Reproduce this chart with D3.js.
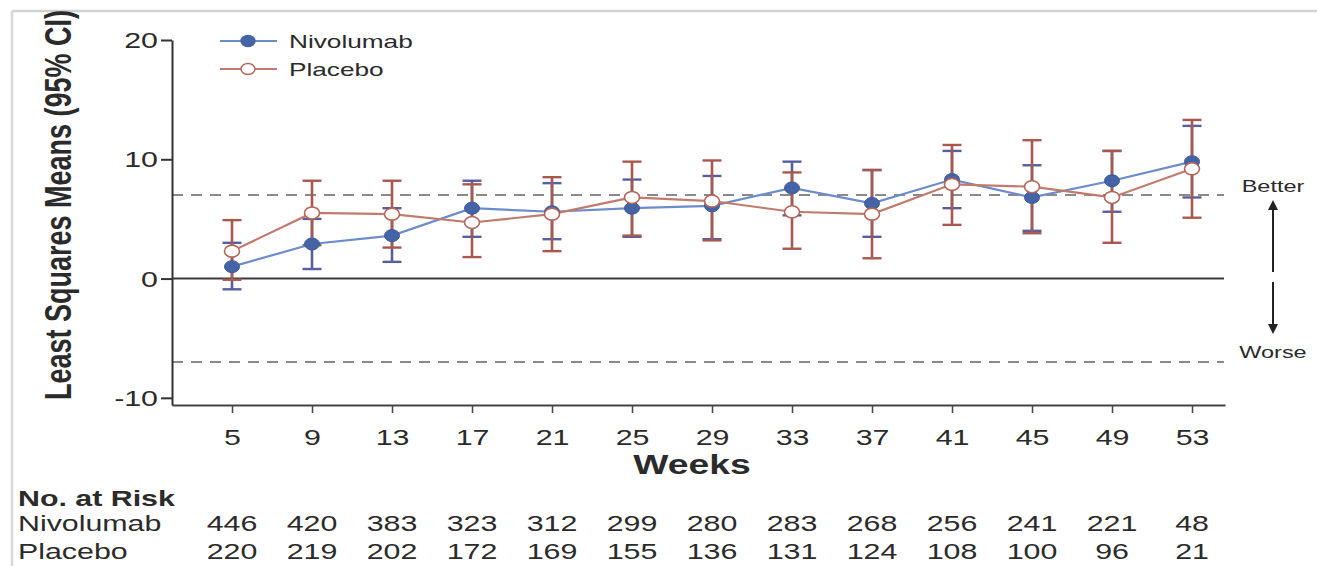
<!DOCTYPE html>
<html>
<head>
<meta charset="utf-8">
<script src="https://cdn.jsdelivr.net/npm/d3@7"></script>
<style>
  html, body { margin: 0; padding: 0; background: #fff; }
  svg { display: block; }
  text { font-family: "Liberation Sans", Arial, Helvetica, sans-serif; fill: #2b2b2b; }
</style>
</head>
<body>
<svg id="chart" width="1317" height="566"></svg>
<script>
// ---- data ----
const weeks = [5, 9, 13, 17, 21, 25, 29, 33, 37, 41, 45, 49, 53];
const nivoMean = [1.0, 2.9, 3.6, 5.9, 5.6, 5.9, 6.1, 7.6, 6.3, 8.3, 6.8, 8.2, 9.8];
const nivoLow  = [-0.9, 0.8, 1.4, 3.5, 3.3, 3.5, 3.3, 5.3, 3.5, 5.9, 4.0, 5.6, 6.8];
const nivoHigh = [3.0, 5.0, 5.9, 8.2, 8.0, 8.3, 8.6, 9.8, 9.1, 10.7, 9.5, 10.7, 12.8];
const placMean = [2.3, 5.5, 5.4, 4.7, 5.4, 6.8, 6.5, 5.6, 5.4, 7.9, 7.7, 6.8, 9.2];
const placLow  = [-0.1, 2.8, 2.6, 1.8, 2.3, 3.6, 3.2, 2.5, 1.7, 4.5, 3.8, 3.0, 5.1];
const placHigh = [4.9, 8.2, 8.2, 7.9, 8.5, 9.8, 9.9, 8.9, 9.1, 11.2, 11.6, 10.7, 13.3];
const nivoAtRisk = [446, 420, 383, 323, 312, 299, 280, 283, 268, 256, 241, 221, 48];
const placAtRisk = [220, 219, 202, 172, 169, 155, 136, 131, 124, 108, 100, 96, 21];
const yTicks = [-10, 0, 10, 20];
const thresholds = [7, -7];
const seriesNames = ["Nivolumab", "Placebo"];

// ---- setup ----
const SX = 1.38; // horizontal stretch of the source image
const svg = d3.select("#chart");
const x = d3.scaleLinear().domain([2, 54.65]).range([172, 1225]);
const y = d3.scaleLinear().domain([-10.6, 20]).range([405, 40]);

const nivoColor = { line: "#6d8ccb", marker: "#4564a6", err: "#56609f" };
const placColor = { line: "#c27a6c", marker: "#b4665a", err: "#a8594f" };

// frame lines of source
svg.append("line").attr("x1", 12).attr("x2", 1317).attr("y1", 11).attr("y2", 11)
  .attr("stroke", "#d2d2d2").attr("stroke-width", 2.5);
svg.append("line").attr("x1", 12).attr("x2", 12).attr("y1", 11).attr("y2", 566)
  .attr("stroke", "#d8d8d8").attr("stroke-width", 2.5);

// threshold dashed lines
svg.selectAll(".thr").data(thresholds).enter().append("line")
  .attr("x1", x(2)).attr("x2", x(54.6))
  .attr("y1", d => y(d)).attr("y2", d => y(d))
  .attr("stroke", "#8a8a8a").attr("stroke-width", 2).attr("stroke-dasharray", "11,8");

// zero line
svg.append("line").attr("x1", x(2)).attr("x2", x(54.6)).attr("y1", y(0)).attr("y2", y(0))
  .attr("stroke", "#3a3a3a").attr("stroke-width", 2);

// axes
const yAxis = svg.append("g").attr("transform", `translate(${x(2)},0)`)
  .call(d3.axisLeft(y).tickValues(yTicks).tickSize(11).tickSizeOuter(0).tickFormat(d => String(d)));
yAxis.select(".domain").attr("stroke", "#333").attr("stroke-width", 2);
yAxis.selectAll(".tick line").attr("stroke", "#333").attr("stroke-width", 2);
yAxis.selectAll(".tick text")
  .attr("x", -14 / SX).attr("dy", "0.35em")
  .attr("transform", `scale(${SX},1)`)
  .style("font-size", "22px").style("font-family", '"Liberation Sans", Arial, sans-serif').attr("fill", "#2b2b2b");

const xAxis = svg.append("g").attr("transform", `translate(0,${y(-10.6)})`)
  .call(d3.axisBottom(x).tickValues(weeks).tickSize(8).tickSizeOuter(0).tickFormat(d => String(d)));
xAxis.select(".domain").attr("stroke", "#444").attr("stroke-width", 2);
xAxis.selectAll(".tick line").attr("stroke", "#444").attr("stroke-width", 1.5);
xAxis.selectAll(".tick text")
  .attr("y", 40).attr("dy", 0)
  .attr("transform", `scale(${SX},1)`)
  .style("font-size", "22px").style("font-family", '"Liberation Sans", Arial, sans-serif').attr("fill", "#2b2b2b");

// axis titles
svg.append("text").attr("transform", `translate(692,474) scale(${SX},1)`)
  .attr("text-anchor", "middle").style("font-size", "27px").style("font-weight", "bold")
  .attr("fill", "#1e1e1e").text("Weeks");
svg.append("text").attr("transform", `translate(71,205) scale(${SX},1) rotate(-90)`)
  .attr("text-anchor", "middle").style("font-size", "27px").style("font-weight", "bold")
  .attr("fill", "#1e1e1e").text("Least Squares Means (95% CI)");

// series data
const nivo = weeks.map((w, i) => ({ w, m: nivoMean[i], lo: nivoLow[i], hi: nivoHigh[i] }));
const plac = weeks.map((w, i) => ({ w, m: placMean[i], lo: placLow[i], hi: placHigh[i] }));

function errorBars(data, color, cls) {
  const g = svg.append("g").attr("class", cls);
  const cap = 9.5;
  g.selectAll(".v").data(data).enter().append("line")
    .attr("x1", d => x(d.w)).attr("x2", d => x(d.w))
    .attr("y1", d => y(d.lo)).attr("y2", d => y(d.hi))
    .attr("stroke", color).attr("stroke-width", 2.6);
  g.selectAll(".t").data(data).enter().append("line")
    .attr("x1", d => x(d.w) - cap).attr("x2", d => x(d.w) + cap)
    .attr("y1", d => y(d.hi)).attr("y2", d => y(d.hi))
    .attr("stroke", color).attr("stroke-width", 2.4);
  g.selectAll(".b").data(data).enter().append("line")
    .attr("x1", d => x(d.w) - cap).attr("x2", d => x(d.w) + cap)
    .attr("y1", d => y(d.lo)).attr("y2", d => y(d.lo))
    .attr("stroke", color).attr("stroke-width", 2.4);
}
errorBars(nivo, nivoColor.err, "nivo-err");
errorBars(plac, placColor.err, "plac-err");

const line = d3.line().x(d => x(d.w)).y(d => y(d.m));
svg.append("path").datum(nivo).attr("d", line).attr("fill", "none")
  .attr("stroke", nivoColor.line).attr("stroke-width", 2.2);
svg.append("path").datum(plac).attr("d", line).attr("fill", "none")
  .attr("stroke", placColor.line).attr("stroke-width", 2.2);

svg.selectAll(".nm").data(nivo).enter().append("ellipse")
  .attr("cx", d => x(d.w)).attr("cy", d => y(d.m)).attr("rx", 7.5).attr("ry", 6)
  .attr("fill", nivoColor.marker).attr("stroke", "#3d5996").attr("stroke-width", 1);
svg.selectAll(".pm").data(plac).enter().append("ellipse")
  .attr("cx", d => x(d.w)).attr("cy", d => y(d.m)).attr("rx", 7.5).attr("ry", 6)
  .attr("fill", "#ffffff").attr("stroke", placColor.marker).attr("stroke-width", 1.6);

// legend
const legend = svg.append("g");
const legItems = [
  { name: seriesNames[0], yy: 41, c: nivoColor, filled: true },
  { name: seriesNames[1], yy: 69, c: placColor, filled: false }
];
legItems.forEach(it => {
  legend.append("line").attr("x1", 220).attr("x2", 277).attr("y1", it.yy).attr("y2", it.yy)
    .attr("stroke", it.c.line).attr("stroke-width", 2);
  legend.append("ellipse").attr("cx", 248).attr("cy", it.yy).attr("rx", 7).attr("ry", 5.5)
    .attr("fill", it.filled ? it.c.marker : "#fff").attr("stroke", it.c.marker).attr("stroke-width", 1.4);
  legend.append("text").attr("transform", `translate(289,${it.yy + 7}) scale(${SX},1)`)
    .style("font-size", "19px").text(it.name);
});

// Better / Worse annotation
svg.append("text").attr("transform", `translate(1273,192) scale(${SX},1)`)
  .attr("text-anchor", "middle").style("font-size", "17px").text("Better");
svg.append("text").attr("transform", `translate(1273,358) scale(${SX},1)`)
  .attr("text-anchor", "middle").style("font-size", "17px").text("Worse");
const ax = 1273;
svg.append("line").attr("x1", ax).attr("x2", ax).attr("y1", 208).attr("y2", 272)
  .attr("stroke", "#222").attr("stroke-width", 2);
svg.append("path").attr("d", `M${ax},200 L${ax - 5},210 L${ax + 5},210 Z`).attr("fill", "#222");
svg.append("line").attr("x1", ax).attr("x2", ax).attr("y1", 282).attr("y2", 325)
  .attr("stroke", "#222").attr("stroke-width", 2);
svg.append("path").attr("d", `M${ax},334 L${ax - 5},324 L${ax + 5},324 Z`).attr("fill", "#222");

// at-risk table
svg.append("text").attr("transform", `translate(18,506) scale(${SX},1)`)
  .style("font-size", "22px").style("font-weight", "bold").attr("fill", "#1e1e1e").text("No. at Risk");
const rows = [
  { name: seriesNames[0], vals: nivoAtRisk, yy: 531 },
  { name: seriesNames[1], vals: placAtRisk, yy: 559 }
];
rows.forEach(r => {
  svg.append("text").attr("transform", `translate(18,${r.yy}) scale(${SX},1)`)
    .style("font-size", "22px").text(r.name);
  svg.selectAll(null).data(r.vals).enter().append("text")
    .attr("transform", (d, i) => `translate(${x(weeks[i])},${r.yy}) scale(${SX},1)`)
    .attr("text-anchor", "middle").style("font-size", "22px").text(d => d);
});
</script>
</body>
</html>
